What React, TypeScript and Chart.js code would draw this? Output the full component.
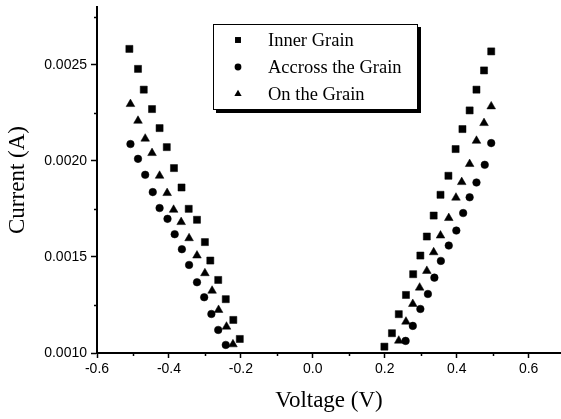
import React, { useEffect, useRef } from 'react';
import { Chart, registerables } from 'chart.js';

Chart.register(...registerables);

// Series labels
const seriesLabels = ['Inner Grain', 'Accross the Grain', 'On the Grain'];
const seriesStyles = ['rect', 'circle', 'triangle'];

// Inner Grain (squares)
const innerV = [
  -0.510, -0.486, -0.470, -0.447, -0.426, -0.406, -0.386, -0.365, -0.345, -0.322, -0.300, -0.285, -0.263, -0.242, -0.221, -0.203,
  0.199, 0.220, 0.239, 0.259, 0.279, 0.299, 0.317, 0.336, 0.355, 0.377, 0.397, 0.416, 0.436, 0.455, 0.476, 0.496,
];
const innerI = [
  0.002582, 0.002478, 0.002370, 0.002269, 0.002170, 0.002071, 0.001962, 0.001861, 0.001750, 0.001693, 0.001577, 0.001481, 0.001380, 0.001280, 0.001172, 0.001073,
  0.001033, 0.001103, 0.001202, 0.001302, 0.001410, 0.001507, 0.001606, 0.001715, 0.001823, 0.001922, 0.002061, 0.002165, 0.002262, 0.002370, 0.002470, 0.002569,
];

// Accross the Grain (circles)
const acrossV = [
  -0.507, -0.486, -0.466, -0.445, -0.426, -0.404, -0.384, -0.364, -0.344, -0.322, -0.302, -0.282, -0.263, -0.242,
  0.258, 0.278, 0.299, 0.320, 0.338, 0.356, 0.378, 0.399, 0.418, 0.436, 0.455, 0.478, 0.496,
];
const acrossI = [
  0.002087, 0.002010, 0.001927, 0.001837, 0.001754, 0.001698, 0.001618, 0.001540, 0.001458, 0.001368, 0.001290, 0.001203, 0.001120, 0.001042,
  0.001063, 0.001141, 0.001229, 0.001307, 0.001392, 0.001479, 0.001559, 0.001637, 0.001728, 0.001810, 0.001887, 0.001979, 0.002092,
];

// On the Grain (triangles)
const onV = [
  -0.507, -0.486, -0.466, -0.447, -0.426, -0.405, -0.387, -0.366, -0.344, -0.322, -0.300, -0.280, -0.262, -0.240, -0.222,
  0.239, 0.259, 0.278, 0.297, 0.317, 0.336, 0.355, 0.378, 0.398, 0.414, 0.436, 0.455, 0.476, 0.496,
];
const onI = [
  0.002295, 0.002208, 0.002115, 0.002040, 0.001922, 0.001832, 0.001745, 0.001681, 0.001597, 0.001507, 0.001415, 0.001324, 0.001224, 0.001137, 0.001045,
  0.001064, 0.001163, 0.001255, 0.001340, 0.001427, 0.001524, 0.001611, 0.001702, 0.001808, 0.001889, 0.001983, 0.002104, 0.002196, 0.002283,
];

// Axis settings and tick values
const xMin = -0.6;
const xMax = 0.69;
const yMin = 0.001;
const yMax = 0.0028;
const xTickValues = [-0.6, -0.5, -0.4, -0.3, -0.2, -0.1, 0.0, 0.1, 0.2, 0.3, 0.4, 0.5, 0.6];
const xTickLabels = ['-0.6', '', '-0.4', '', '-0.2', '', '0.0', '', '0.2', '', '0.4', '', '0.6'];
const yTickValues = [0.001, 0.00125, 0.0015, 0.00175, 0.002, 0.00225, 0.0025, 0.00275];
const yTickLabels = ['0.0010', '', '0.0015', '', '0.0020', '', '0.0025', ''];
const xTitle = 'Voltage (V)';
const yTitle = 'Current (A)';

const toPoints = (xs: number[], ys: number[]) => xs.map((x, i) => ({ x, y: ys[i] }));

function drawMarker(ctx: CanvasRenderingContext2D, style: string, x: number, y: number, r: number) {
  ctx.beginPath();
  if (style === 'rect') {
    const s = r * Math.SQRT1_2;
    ctx.rect(x - s, y - s, 2 * s, 2 * s);
  } else if (style === 'circle') {
    ctx.arc(x, y, r, 0, Math.PI * 2);
  } else {
    const h = r * 1.5;
    const w = r * Math.sqrt(3);
    ctx.moveTo(x, y - h * 2 / 3);
    ctx.lineTo(x + w / 2, y + h / 3);
    ctx.lineTo(x - w / 2, y + h / 3);
    ctx.closePath();
  }
  ctx.fill();
}

const minorTicksPlugin = {
  id: 'minorTicks',
  afterDraw(chart: any) {
    const ctx = chart.ctx;
    ctx.save();
    ctx.strokeStyle = '#000';
    ctx.lineWidth = 1.5;
    const xs = chart.scales.x;
    const ys = chart.scales.y;
    xTickValues.forEach((v, i) => {
      if (xTickLabels[i] === '') {
        const px = Math.round(xs.getPixelForValue(v)) + 0.5;
        ctx.beginPath();
        ctx.moveTo(px, xs.top);
        ctx.lineTo(px, xs.top + 3);
        ctx.stroke();
      }
    });
    yTickValues.forEach((v, i) => {
      if (yTickLabels[i] === '') {
        const py = Math.round(ys.getPixelForValue(v)) + 0.5;
        ctx.beginPath();
        ctx.moveTo(ys.right, py);
        ctx.lineTo(ys.right - 3, py);
        ctx.stroke();
      }
    });
    ctx.restore();
  },
};

const legendBoxPlugin = {
  id: 'legendBox',
  afterDraw(chart: any) {
    const ctx = chart.ctx;
    const area = chart.chartArea;
    const bx = area.left + 116;
    const by = area.top + 17;
    const bw = 205;
    const bh = 86;
    ctx.save();
    ctx.fillStyle = '#000';
    ctx.fillRect(bx + 3, by + 3, bw, bh);
    ctx.fillStyle = '#fff';
    ctx.fillRect(bx, by, bw, bh);
    ctx.strokeStyle = '#000';
    ctx.lineWidth = 1;
    ctx.strokeRect(bx + 0.5, by + 0.5, bw - 1, bh - 1);
    ctx.font = '18.5px "Liberation Serif", "Times New Roman", serif';
    ctx.textBaseline = 'middle';
    ctx.textAlign = 'left';
    const sizes = [4.2, 3.4, 4.2];
    chart.data.datasets.forEach((ds: any, i: number) => {
      const rowY = by + 16 + i * 27;
      ctx.fillStyle = '#000';
      drawMarker(ctx, seriesStyles[i], bx + 25, rowY, sizes[i]);
      ctx.fillText(ds.label, bx + 55, rowY + 1);
    });
    ctx.restore();
  },
};

export default function App() {
  const canvasRef = useRef<HTMLCanvasElement | null>(null);

  useEffect(() => {
    if (!canvasRef.current) return;
    const tickFont = { family: '"Liberation Sans", Arial, sans-serif', size: 14, lineHeight: 1 };
    const titleFont = { family: '"Liberation Serif", "Times New Roman", serif', size: 23 };
    const chart = new Chart(canvasRef.current, {
      type: 'scatter',
      data: {
        datasets: [
          {
            label: seriesLabels[0],
            data: toPoints(innerV, innerI),
            pointStyle: seriesStyles[0],
            pointRadius: 5,
            backgroundColor: '#000',
            borderColor: '#000',
            borderWidth: 0.5,
          },
          {
            label: seriesLabels[1],
            data: toPoints(acrossV, acrossI),
            pointStyle: seriesStyles[1],
            pointRadius: 3.8,
            backgroundColor: '#000',
            borderColor: '#000',
            borderWidth: 0.5,
          },
          {
            label: seriesLabels[2],
            data: toPoints(onV, onI),
            pointStyle: seriesStyles[2],
            pointRadius: 5,
            backgroundColor: '#000',
            borderColor: '#000',
            borderWidth: 0.5,
          },
        ],
      },
      options: {
        responsive: false,
        animation: false,
        layout: { autoPadding: false, padding: { top: 7, right: 0, left: 0, bottom: 0 } },
        plugins: {
          legend: { display: false },
          tooltip: { enabled: false },
        },
        scales: {
          x: {
            type: 'linear',
            position: 'bottom',
            min: xMin,
            max: xMax,
            afterBuildTicks: (scale: any) => {
              scale.ticks = xTickValues.map((v) => ({ value: v }));
            },
            afterFit: (scale: any) => {
              scale.height = 66;
              scale.paddingLeft = 0;
              scale.paddingRight = 0;
            },
            border: { color: '#000', width: 2 },
            grid: {
              drawOnChartArea: false,
              drawTicks: true,
              tickLength: 5,
              tickWidth: 1.5,
              tickColor: (c: any) => (c.index !== undefined && xTickLabels[c.index] !== '' ? '#000' : 'rgba(0,0,0,0)'),
            },
            ticks: {
              autoSkip: false,
              maxRotation: 0,
              color: '#000',
              padding: 4,
              font: tickFont,
              callback: (_v: any, i: number) => xTickLabels[i],
            },
            title: {
              display: true,
              text: xTitle,
              color: '#000',
              font: titleFont,
              padding: { top: 0, bottom: 4 },
            },
          },
          y: {
            type: 'linear',
            min: yMin,
            max: yMax,
            afterBuildTicks: (scale: any) => {
              scale.ticks = yTickValues.map((v) => ({ value: v }));
            },
            afterFit: (scale: any) => {
              scale.width = 97;
              scale.paddingTop = 0;
              scale.paddingBottom = 0;
            },
            border: { color: '#000', width: 2 },
            grid: {
              drawOnChartArea: false,
              drawTicks: true,
              tickLength: 6,
              tickWidth: 1.5,
              tickColor: (c: any) => (c.index !== undefined && yTickLabels[c.index] !== '' ? '#000' : 'rgba(0,0,0,0)'),
            },
            ticks: {
              autoSkip: false,
              color: '#000',
              padding: 4,
              font: tickFont,
              callback: (_v: any, i: number) => yTickLabels[i],
            },
            title: {
              display: true,
              text: yTitle,
              color: '#000',
              font: titleFont,
              padding: { top: 4, bottom: 0 },
            },
          },
        },
      },
      plugins: [minorTicksPlugin, legendBoxPlugin],
    } as any);
    return () => chart.destroy();
  }, []);

  return (
    <div style={{ position: 'absolute', left: 0, top: 0, width: 561, height: 419, background: '#fff' }}>
      <canvas ref={canvasRef} width={561} height={419} />
    </div>
  );
}
